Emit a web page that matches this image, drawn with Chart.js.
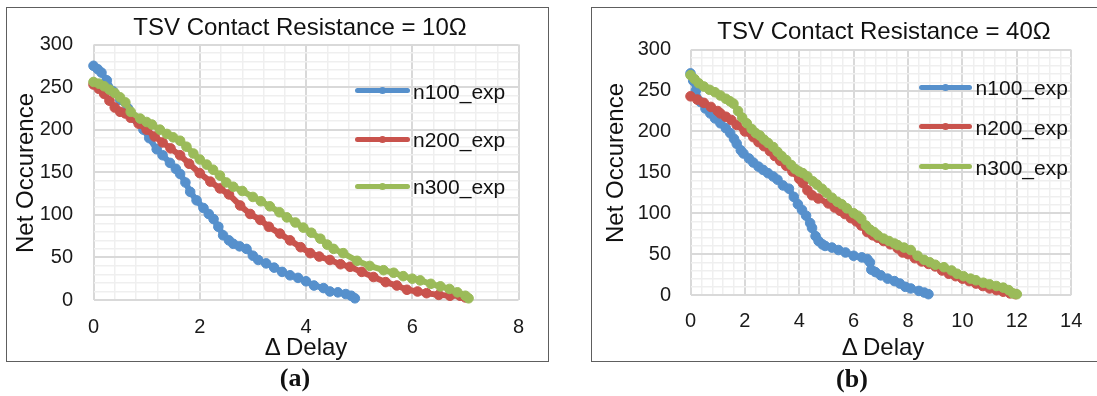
<!DOCTYPE html>
<html><head><meta charset="utf-8">
<script src="https://cdn.jsdelivr.net/npm/chart.js@4.4.0/dist/chart.umd.min.js"></script>
<style>
html,body{margin:0;padding:0;background:#fff;width:1097px;height:396px;overflow:hidden;position:relative;font-family:"Liberation Sans",Arial,sans-serif;color:#111}
.box{position:absolute;border:1px solid #5e5e5e;box-sizing:border-box}
canvas{position:absolute;top:0}
.t{position:absolute;white-space:nowrap;font-size:24px;line-height:24px;text-align:center;width:500px}
.yt{position:absolute;white-space:nowrap;font-size:24px;line-height:24px;text-align:center;width:300px;height:24px;transform:rotate(-90deg)}
.cap{position:absolute;font-family:"Liberation Serif","Times New Roman",serif;font-weight:bold;font-size:26px;line-height:26px;width:100px;text-align:center}
.lg{position:absolute;font-size:21px;line-height:21px;white-space:nowrap}
.ll{position:absolute;height:5px;border-radius:2.5px}
.ld{position:absolute;width:7px;height:7px;border-radius:50%}
</style></head>
<body>
<div class="box" style="left:6px;top:7px;width:543px;height:355px"></div>
<div class="box" style="left:591px;top:7px;width:520px;height:355px"></div>
<canvas id="c1" width="549" height="396" style="left:0px"></canvas>
<canvas id="c2" width="537" height="396" style="left:560px"></canvas>
<div id="txt"></div>
<script>
// ---- data ----
const seriesNames = ["n100_exp", "n200_exp", "n300_exp"];
const seriesColors = ["#5690cc", "#c9534d", "#9bbb59"];
const xTickLabels1 = [0, 2, 4, 6, 8];
const xTickLabels2 = [0, 2, 4, 6, 8, 10, 12, 14];
const yTickLabels = [0, 50, 100, 150, 200, 250, 300];

// Panel (a): TSV Contact Resistance = 10Ω
const a_n100_x = [0,0.08,0.15,0.25,0.37,0.5,0.65,0.8,0.94,1.05,1.19,1.3,1.44,1.55,1.63,1.73,1.82,1.94,2.07,2.17,2.26,2.35,2.44,2.55,2.63,2.75,2.88,3.0,3.1,3.25,3.4,3.55,3.7,3.85,4.0,4.15,4.33,4.45,4.6,4.75,4.85,4.92];
const a_n100_y = [275,271,267,258,245,235,225,212,200,190,177,170,161,154,148,138,127,117,108,101,95,86,76,70,66,63,60,52,47,43,38,33,29,26,22,17,14,10,9,7,5,2];
const a_n200_x = [0,0.1,0.2,0.3,0.4,0.5,0.6,0.7,0.85,1.0,1.15,1.3,1.45,1.63,1.8,2.0,2.2,2.38,2.55,2.76,2.95,3.14,3.3,3.51,3.7,3.9,4.08,4.25,4.45,4.65,4.83,5.05,5.27,5.5,5.71,5.9,6.1,6.27,6.5,6.71,6.9,7.0];
const a_n200_y = [253,248,242,234,226,221,219,214,207,200,192,185,178,170,160,149,139,131,124,111,101,94,86,78,70,62,55,51,47,42,39,33,27,21,17,12,10,8,6,5,5,3];
const a_n300_x = [0,0.1,0.2,0.3,0.4,0.5,0.6,0.7,0.88,1.0,1.1,1.25,1.38,1.5,1.63,1.75,1.88,2.0,2.13,2.25,2.38,2.5,2.63,2.8,3.0,3.15,3.32,3.5,3.64,3.8,3.95,4.1,4.27,4.4,4.52,4.7,4.96,5.2,5.46,5.65,5.83,6.0,6.15,6.35,6.53,6.7,6.85,7.0,7.06];
const a_n300_y = [256,254,251,247,243,238,232,221,213,209,206,200,195,191,187,180,172,165,159,153,146,138,133,128,121,116,110,103,97,91,85,79,72,65,60,55,46,40,35,32,28,25,23,19,16,13,9,5,2];

// Panel (b): TSV Contact Resistance = 40Ω
const b_n100_x = [0,0.1,0.2,0.37,0.55,0.73,0.9,1.1,1.3,1.46,1.6,1.7,1.85,1.95,2.15,2.31,2.5,2.67,2.85,3.04,3.2,3.4,3.62,3.8,3.95,4.1,4.25,4.4,4.47,4.6,4.71,4.85,4.95,5.2,5.44,5.7,6.0,6.3,6.5,6.6,6.65,6.8,7.0,7.25,7.5,7.7,7.9,8.1,8.4,8.6,8.75];
const b_n100_y = [271,262,250,236,228,222,216,210,204,198,191,185,177,173,167,162,157,153,149,145,141,134,130,120,111,104,97,88,82,72,66,62,60,58,55,52,48,46,44,40,31,28,24,20,17,14,10,8,5,3,1];
const b_n200_x = [0,0.25,0.49,0.75,1.0,1.1,1.3,1.5,1.7,2.0,2.31,2.5,2.7,2.92,3.1,3.3,3.52,3.75,4.0,4.13,4.3,4.47,4.7,5.07,5.3,5.5,5.68,5.9,6.1,6.28,6.5,6.7,6.89,7.1,7.35,7.62,7.8,8.0,8.25,8.5,8.75,9.0,9.25,9.5,9.75,10.0,10.25,10.5,10.75,11.0,11.25,11.5,11.75,11.95];
const b_n200_y = [243,239,235,230,225,222,218,214,208,200,193,187,182,176,170,164,158,151,142,137,128,122,118,112,107,103,99,94,90,85,77,73,70,66,62,57,52,50,45,41,38,35,30,26,23,20,17,14,11,8,6,4,2,1];
const b_n300_x = [0,0.15,0.3,0.49,0.7,0.9,1.1,1.3,1.45,1.58,1.75,1.9,2.07,2.25,2.4,2.55,2.7,2.85,3.04,3.2,3.35,3.52,3.7,3.85,4.0,4.13,4.3,4.5,4.65,4.83,5.0,5.2,5.4,5.56,5.75,6.0,6.15,6.28,6.45,6.6,6.75,6.89,7.1,7.3,7.5,7.62,7.85,8.1,8.35,8.59,8.8,9.0,9.32,9.6,9.8,10.04,10.3,10.5,10.77,11.0,11.25,11.5,11.7,11.86,12.0];
const b_n300_y = [269,264,259,255,251,248,244,240,237,234,225,217,210,203,198,195,190,186,181,175,170,165,159,154,151,149,145,139,135,130,125,119,114,111,106,100,97,93,85,80,77,73,69,66,63,61,58,55,48,43,40,37,34,30,26,23,20,18,15,13,11,9,6,2,1];

// ---- helpers ----
const FONT = "'Liberation Sans', Arial, sans-serif";
function pts(xs, ys){ return xs.map((x,i)=>({x:x, y:ys[i]})); }
function isIn(v, list){ return list.some(m => Math.abs(m - v) < 1e-6); }

function makeChart(id, xs, ys, xMax, xStep, xLabels, geom){
  const datasets = xs.map((xArr, i) => ({
    label: seriesNames[i],
    data: pts(xArr, ys[i]),
    borderColor: seriesColors[i],
    backgroundColor: seriesColors[i],
    pointBackgroundColor: seriesColors[i],
    pointBorderColor: seriesColors[i],
    borderWidth: 6,
    pointRadius: 4.8,
    pointBorderWidth: 1,
    tension: 0,
    showLine: true,
    clip: 10,
    order: 2 - i
  }));
  return new Chart(document.getElementById(id), {
    type: 'scatter',
    data: { datasets },
    options: {
      responsive: false, animation: false, devicePixelRatio: 1,
      layout: { padding: geom.padding },
      plugins: { legend: {display:false}, tooltip: {enabled:false}, title:{display:false} },
      scales: {
        x: {
          type: 'linear', min: 0, max: xMax,
          afterFit: s => { s.height = 40; },
          border: { display: false },
          grid: {
            drawTicks: false,
            color: c => isIn(c.tick.value, xLabels) ? '#d9d9d9' : '#efefef',
            lineWidth: c => isIn(c.tick.value, xLabels) ? 2 : 1.5
          },
          ticks: {
            stepSize: xStep, autoSkip: false, maxRotation: 0, minRotation: 0,
            padding: geom.xPad, color: '#1a1a1a', font: { family: FONT, size: 20 },
            callback: v => isIn(v, xLabels) ? String(Math.round(v)) : ''
          }
        },
        y: {
          type: 'linear', min: 0, max: 300,
          afterFit: s => { s.width = geom.yWidth; },
          border: { display: false },
          grid: {
            drawTicks: false,
            color: c => isIn(c.tick.value, yTickLabels) ? '#d9d9d9' : '#efefef',
            lineWidth: c => isIn(c.tick.value, yTickLabels) ? 2 : 1.5
          },
          ticks: {
            stepSize: 10, autoSkip: false,
            padding: geom.yPad, color: '#1a1a1a', font: { family: FONT, size: 20 },
            callback: v => isIn(v, yTickLabels) ? String(Math.round(v)) : ''
          }
        }
      }
    }
  });
}

makeChart('c1', [a_n100_x, a_n200_x, a_n300_x], [a_n100_y, a_n200_y, a_n300_y], 8, 0.4, xTickLabels1,
  { padding: {left:0, top:44.5, right:30.5, bottom:56}, yWidth: 93.5, xPad: 15.5, yPad: 20.5 });
makeChart('c2', [b_n100_x, b_n200_x, b_n300_x], [b_n100_y, b_n200_y, b_n300_y], 14, 0.4, xTickLabels2,
  { padding: {left:0, top:49.7, right:21.5, bottom:61}, yWidth: 130.5, xPad: 14.7, yPad: 19.5 });

// ---- text & legends ----
const txt = document.getElementById('txt');
function add(cls, style, text){
  const d = document.createElement('div'); d.className = cls; d.setAttribute('style', style);
  if (text !== undefined) d.textContent = text; txt.appendChild(d); return d;
}
add('t', 'left:50px;top:15px', 'TSV Contact Resistance = 10Ω');
add('t', 'left:634px;top:19px', 'TSV Contact Resistance = 40Ω');
add('t', 'left:56px;top:335px', 'Δ Delay');
add('t', 'left:633px;top:335px', 'Δ Delay');
add('yt', 'left:' + (25.4-150) + 'px;top:' + (173-12) + 'px', 'Net Occurence');
add('yt', 'left:' + (614.9-150) + 'px;top:' + (163-12) + 'px', 'Net Occurence');
add('cap', 'left:245px;top:365px', '(a)');
add('cap', 'left:802px;top:366px', '(b)');

function legend(x1, x2, xt, ys){
  seriesNames.forEach((n, i) => {
    const y = ys[i], col = seriesColors[i];
    add('ll', `left:${x1}px;top:${y-2.5}px;width:${x2-x1}px;background:${col}`);
    add('ld', `left:${(x1+x2)/2-3.5}px;top:${y-3.5}px;background:${col}`);
    add('lg', `left:${xt}px;top:${y-10.2}px`, n);
  });
}
legend(355, 410, 413, [90.7, 139, 186]);
legend(918.5, 972, 975.6, [87.3, 126.7, 166.7]);
</script>
</body></html>
